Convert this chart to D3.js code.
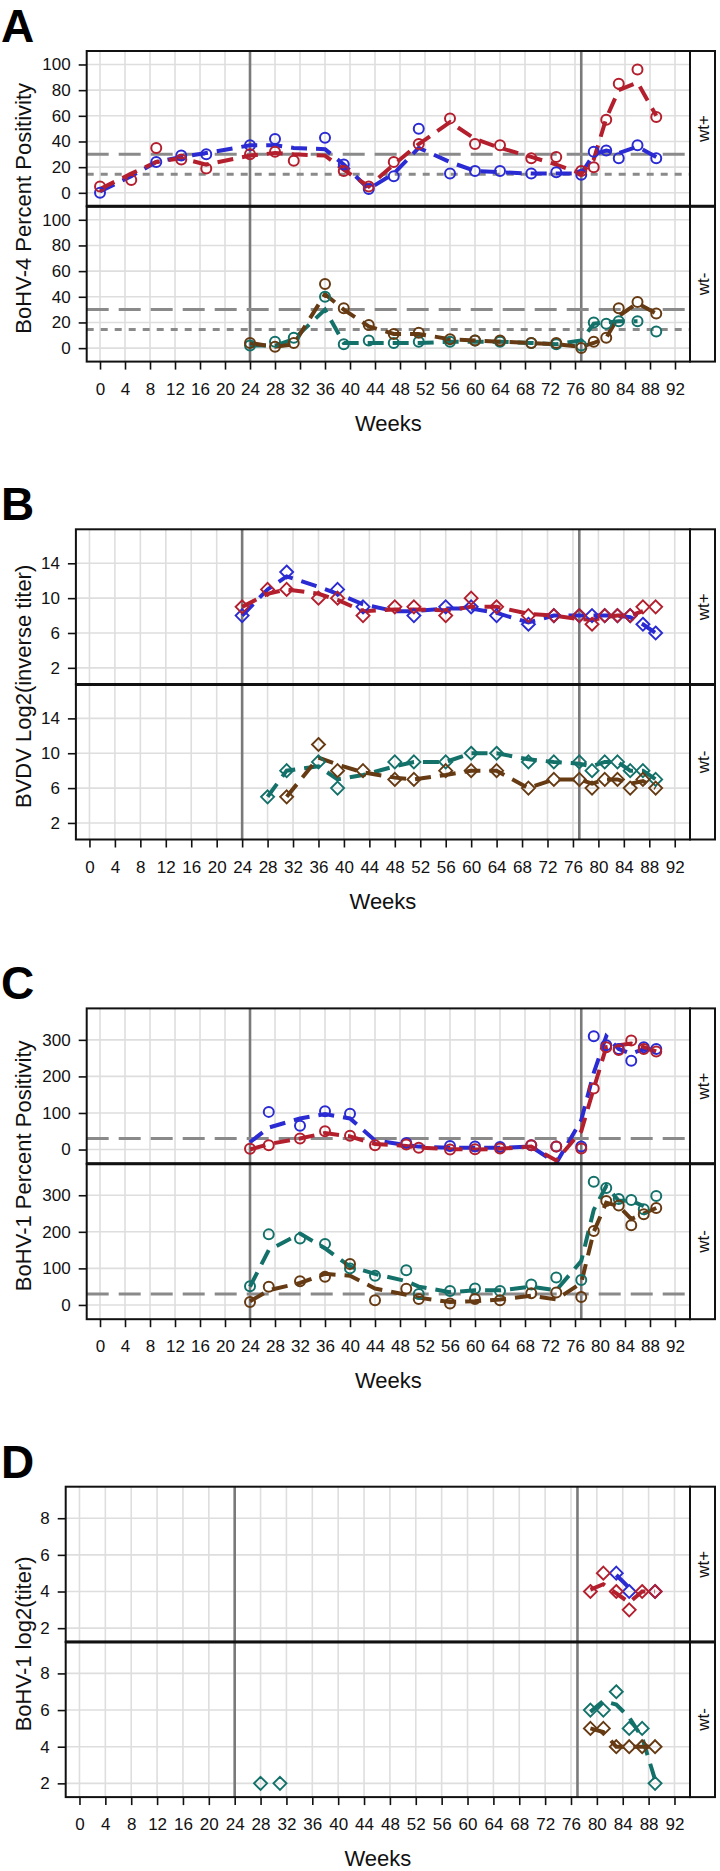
<!DOCTYPE html>
<html><head><meta charset="utf-8">
<script src="https://cdn.jsdelivr.net/npm/d3@7"></script>
<style>body{margin:0;background:#fff}svg{display:block}text{font-family:"Liberation Sans",Arial,Helvetica,sans-serif}</style>
</head><body><svg id="c" width="720" height="1871"></svg>
<script>
// ---------- DATA ----------
const weekTicks = [0,4,8,12,16,20,24,28,32,36,40,44,48,52,56,60,64,68,72,76,80,84,88,92];
const refWeeks = [24,77];

// Panel A : BoHV-4 percent positivity
const aWeeksPos = [0,5,9,13,17,24,28,31,36,39,43,47,51,56,60,64,69,73,77,79,81,83,86,89];
const aRedPts   = [5,10,35,26,19,30,32,25,null,17,5,24,38,58,38,37,27,28,17,20,57,85,96,59];
const aBluePts  = [0,null,24,29,30,37,42,null,43,22,3,13,50,15,17,17,15,16,14,32,33,27,37,27];
const aRedLine  = [3,15,24,27,22,29,31,30,29,18,5,22,38,55,42,35,28,22,15,26,58,80,86,60];
const aBlueLine = [1,13,24,28,31,37,37,35,34,22,3,15,35,24,17,16,15,15,15,30,33,31,36,28];
const aWeeksNeg = [24,28,31,36,39,43,47,51,56,60,64,69,73,77,79,81,83,86,89];
const aTealPts   = [2,5,8,40,3,6,4,5,5,6,5,4,3,2,20,19,21,21,13];
const aBrownPts  = [4,1,4,50,31,18,11,12,7,6,6,4,4,0,5,8,31,36,27];
const aTealLine  = [2,2,7,30,4,4,4,4,5,5,5,4,3,6,19,20,21,21,null];
const aBrownLine = [4,1,3,42,30,17,11,11,7,6,5,4,3,1,4,8,25,35,27];
const aYTicks = [0,20,40,60,80,100];
const aCutoffs = [30,14.5];

// Panel B : BVDV log2(inverse titer)
const bWeeks = [24,28,31,36,39,43,48,51,56,60,64,69,73,77,79,81,83,85,87,89];
const bRedPts    = [9,11,11,10,10,8,9,9,8,10,9,8,8,8,7,8,8,8,9,9];
const bBluePts   = [8,null,13,null,11,9,null,8,9,9,8,7,8,8,8,8,8,8,7,6];
const bRedLine   = [9,10.5,11,10.5,9.8,8.5,8.7,8.7,8.6,9,9,8.2,8,7.6,7.5,7.8,8,8,8.5,null];
const bBlueLine  = [8,11,12.5,11.3,10.5,9.3,8.5,8.5,8.8,8.8,8.3,7.2,8,8,8,8,8,7.8,7,6];
const bTealPts   = [null,5,8,9,6,null,9,9,9,10,10,9,9,9,8,9,9,8,8,7];
const bBrownPts  = [null,null,5,11,8,8,7,7,8,8,8,6,7,7,6,7,7,6,7,6];
const bTealLine  = [null,5,8,8.5,7,7.5,8.5,9,9,10,10,9.3,9,8.8,8.5,9,9,8,8,7];
const bBrownLine = [null,null,5,9.5,8.7,7.8,7.2,7,7.5,8,8,6,7,7,6.5,7,7,6.5,6.8,6];
const bYTicks = [2,6,10,14];

// Panel C : BoHV-1 percent positivity
const cWeeks = [24,27,32,36,40,44,49,51,56,60,64,69,73,77,79,81,83,85,87,89];
const cRedPts    = [2,12,30,50,38,12,14,5,0,1,3,12,8,3,167,280,272,298,275,268];
const cBluePts   = [null,103,65,105,98,null,18,null,10,8,7,12,8,8,310,285,275,243,280,275];
const cRedLine   = [0,15,30,45,36,15,10,5,1,0,2,8,-30,50,167,280,285,290,280,268];
const cBlueLine  = [20,60,85,97,85,25,12,8,5,5,5,8,-37,80,210,310,275,262,275,272];
const cTealPts   = [51,193,182,167,100,80,95,30,38,45,38,56,75,68,337,320,290,287,262,298];
const cBrownPts  = [8,50,65,77,112,13,44,16,4,16,13,32,34,22,202,284,272,218,248,265];
const cTealLine  = [50,150,195,155,105,85,65,50,35,40,40,50,40,120,260,325,285,285,270,null];
const cBrownLine = [10,40,60,85,80,45,28,20,8,10,15,25,15,60,200,280,270,235,250,265];
const cYTicks = [0,100,200,300];
const cCutoffs = [30];

// Panel D : BoHV-1 log2(titer)
const dWeeks = [28,31,79,81,83,85,87,89];
const dRedPts    = [null,null,4,5,4,3,4,4];
const dBluePts   = [null,null,null,null,5,4,null,4];
const dRedLine   = [null,null,4.1,4.4,3.9,3.4,4,4];
const dBlueLine  = [null,null,null,null,4.9,4.2,null,null];
const dTealPts   = [2,2,6,6,7,5,5,2];
const dBrownPts  = [null,null,5,5,4,4,4,4];
const dTealLine  = [null,null,5.9,6.5,6.3,5.6,4.5,2.2];
const dBrownLine = [null,null,5,4.8,4,4,4,4];
const dYTicks = [2,4,6,8];

const stripLabels = ["wt+","wt-"];

// ---------- STYLE / LAYOUT ----------
const COL = {red:"#B41F2E", blue:"#2B2BD3", teal:"#13716A", brown:"#663A12"};
const xDomain = [-2.13, 94.4];
const PLOT_R = 690, STRIP_W = 25;
const cutDash = {30:"22,10", 14.5:"7,7"};

const panels = [
  {label:"A", title:"BoHV-4 Percent Positivity", left:86.7, top:51, fh:155.3, yDom:[-10.5,110.5], yTicks:aYTicks, cut:aCutoffs, shape:"circle",
   facets:[{weeks:aWeeksPos, series:[{c:"blue",pts:aBluePts,line:aBlueLine},{c:"red",pts:aRedPts,line:aRedLine}]},
           {weeks:aWeeksNeg, series:[{c:"teal",pts:aTealPts,line:aTealLine},{c:"brown",pts:aBrownPts,line:aBrownLine}]}]},
  {label:"B", title:"BVDV Log2(inverse titer)", left:75.9, top:529.3, fh:155.1, yDom:[0.1,17.9], yTicks:bYTicks, cut:[], shape:"diamond",
   facets:[{weeks:bWeeks, series:[{c:"blue",pts:bBluePts,line:bBlueLine},{c:"red",pts:bRedPts,line:bRedLine}]},
           {weeks:bWeeks, series:[{c:"teal",pts:bTealPts,line:bTealLine},{c:"brown",pts:bBrownPts,line:bBrownLine}]}]},
  {label:"C", title:"BoHV-1 Percent Positivity", left:86.7, top:1008.4, fh:155.4, yDom:[-39,386], yTicks:cYTicks, cut:cCutoffs, shape:"circle",
   facets:[{weeks:cWeeks, series:[{c:"blue",pts:cBluePts,line:cBlueLine},{c:"red",pts:cRedPts,line:cRedLine}]},
           {weeks:cWeeks, series:[{c:"teal",pts:cTealPts,line:cTealLine},{c:"brown",pts:cBrownPts,line:cBrownLine}]}]},
  {label:"D", title:"BoHV-1 log2(titer)", left:65.7, top:1486.7, fh:155.2, yDom:[1.25,9.72], yTicks:dYTicks, cut:[], shape:"diamond",
   facets:[{weeks:dWeeks, series:[{c:"blue",pts:dBluePts,line:dBlueLine},{c:"red",pts:dRedPts,line:dRedLine}]},
           {weeks:dWeeks, series:[{c:"teal",pts:dTealPts,line:dTealLine},{c:"brown",pts:dBrownPts,line:dBrownLine}]}]}
];

const svg = d3.select("#c");
svg.append("rect").attr("width",720).attr("height",1871).attr("fill","#fff");

panels.forEach((p, pi) => {
  const g = svg.append("g");
  const x = d3.scaleLinear().domain(xDomain).range([p.left, PLOT_R]);
  const bottom = p.top + 2*p.fh;

  p.facets.forEach((f, fi) => {
    const t = p.top + fi*p.fh;
    const y = d3.scaleLinear().domain(p.yDom).range([t + p.fh, t]);
    const cid = `clip${pi}_${fi}`;
    g.append("clipPath").attr("id", cid).append("rect")
      .attr("x", p.left).attr("y", t).attr("width", PLOT_R - p.left).attr("height", p.fh);
    const fg = g.append("g");
    // grid
    fg.append("g").selectAll("line").data(weekTicks).join("line")
      .attr("x1", d=>x(d)).attr("x2", d=>x(d)).attr("y1", t).attr("y2", t+p.fh)
      .attr("stroke","#dedede").attr("stroke-width",1.6);
    fg.append("g").selectAll("line").data(p.yTicks).join("line")
      .attr("x1", p.left).attr("x2", PLOT_R).attr("y1", d=>y(d)).attr("y2", d=>y(d))
      .attr("stroke","#dedede").attr("stroke-width",1.6);
    // reference weeks
    fg.append("g").selectAll("line").data(refWeeks).join("line")
      .attr("x1", d=>x(d)).attr("x2", d=>x(d)).attr("y1", t).attr("y2", t+p.fh)
      .attr("stroke","#7a7a7a").attr("stroke-width",2.6);
    // cutoffs
    fg.append("g").selectAll("line").data(p.cut).join("line")
      .attr("x1", p.left).attr("x2", PLOT_R).attr("y1", d=>y(d)).attr("y2", d=>y(d))
      .attr("stroke","#8a8a8a").attr("stroke-width",3).attr("stroke-dasharray", d=>cutDash[d]);
    // series
    const dg = fg.append("g").attr("clip-path", `url(#${cid})`);
    f.series.forEach(s => {
      const lineData = f.weeks.map((w,i)=>[w, s.line[i]]);
      const ln = d3.line().defined(d=>d[1]!=null).x(d=>x(d[0])).y(d=>y(d[1]));
      dg.append("path").attr("d", ln(lineData)).attr("fill","none")
        .attr("stroke", COL[s.c]).attr("stroke-width",4).attr("stroke-dasharray","16,9");
    });
    f.series.forEach(s => {
      const pts = f.weeks.map((w,i)=>[w, s.pts[i]]).filter(d=>d[1]!=null);
      if (p.shape === "circle") {
        dg.append("g").selectAll("circle").data(pts).join("circle")
          .attr("cx", d=>x(d[0])).attr("cy", d=>y(d[1])).attr("r",5)
          .attr("fill","none").attr("stroke", COL[s.c]).attr("stroke-width",2);
      } else {
        const r = 6.5;
        dg.append("g").selectAll("path").data(pts).join("path")
          .attr("d", d=>{const cx=x(d[0]), cy=y(d[1]); return `M${cx},${cy-r}L${cx+r},${cy}L${cx},${cy+r}L${cx-r},${cy}Z`;})
          .attr("fill","none").attr("stroke", COL[s.c]).attr("stroke-width",1.9);
      }
    });
    // frame
    fg.append("rect").attr("x", p.left).attr("y", t).attr("width", PLOT_R - p.left).attr("height", p.fh)
      .attr("fill","none").attr("stroke","#111").attr("stroke-width",2);
    // strip
    fg.append("rect").attr("x", PLOT_R).attr("y", t).attr("width", STRIP_W).attr("height", p.fh)
      .attr("fill","#fff").attr("stroke","#111").attr("stroke-width",2);
    const sx = PLOT_R + STRIP_W/2 + 1, sy = t + p.fh/2;
    fg.append("text").attr("transform", `translate(${sx},${sy}) rotate(-90)`)
      .attr("text-anchor","middle").attr("dominant-baseline","central")
      .attr("font-size",17).attr("fill","#111").text(stripLabels[fi]);
    // y axis
    const ya = fg.append("g").attr("transform", `translate(${p.left},0)`)
      .call(d3.axisLeft(y).tickValues(p.yTicks).tickSize(8).tickPadding(8).tickFormat(d3.format("d")));
    ya.select(".domain").remove();
    ya.selectAll("line").attr("stroke","#111").attr("stroke-width",1.6);
    ya.selectAll("text").attr("font-size",17).attr("fill","#111").attr("font-family",null);
  });
  // thicker divider
  g.append("line").attr("x1", p.left).attr("x2", PLOT_R + STRIP_W).attr("y1", p.top + p.fh).attr("y2", p.top + p.fh)
    .attr("stroke","#111").attr("stroke-width",3);
  // x axis
  const xa = g.append("g").attr("transform", `translate(0,${bottom})`)
    .call(d3.axisBottom(x).tickValues(weekTicks).tickSize(8).tickPadding(13));
  xa.select(".domain").remove();
  xa.selectAll("line").attr("stroke","#111").attr("stroke-width",1.6);
  xa.selectAll("text").attr("font-size",17).attr("fill","#111").attr("font-family",null);
  // axis titles
  g.append("text").attr("x", (p.left + PLOT_R)/2).attr("y", bottom + 69)
    .attr("text-anchor","middle").attr("font-size",22).attr("fill","#111").text("Weeks");
  g.append("text").attr("transform", `translate(31,${p.top + p.fh + 2}) rotate(-90)`)
    .attr("text-anchor","middle").attr("font-size",22).attr("fill","#111").text(p.title);
  // panel letter
  g.append("text").attr("x", 1).attr("y", p.top - 9).attr("font-size",46).attr("font-weight","bold")
    .attr("fill","#000").text(p.label);
});
</script></body></html>
